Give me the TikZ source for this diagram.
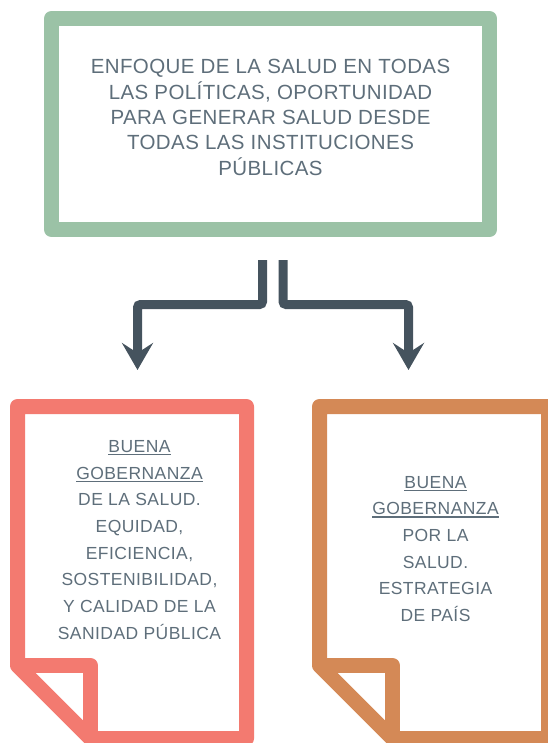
\documentclass[tikz,border=0pt]{standalone}
\usepackage{fontspec}
\setmainfont{Liberation Sans}
\usetikzlibrary{arrows.meta}
\definecolor{boxgreen}{HTML}{9BC2A6}
\definecolor{pagered}{HTML}{F37A70}
\definecolor{pageorange}{HTML}{D48956}
\definecolor{arrowc}{HTML}{45535E}
\definecolor{txtc}{HTML}{5E6E7A}
\newcommand\myunder[1]{\setbox0=\hbox{#1}\rlap{\rule[-2.8pt]{\wd0}{1.3pt}}\box0}
\tikzset{
  topbox/.style={draw=boxgreen, line width=15pt, line join=round, minimum width=438pt, minimum height=211pt, inner sep=0pt},
  toptext/.style={font=\fontsize{20.5}{25.3}\selectfont\addfontfeature{LetterSpace=2}, text=txtc, align=center, inner sep=0pt},
  pagetext/.style={font=\fontsize{17.5}{26.7}\selectfont\addfontfeature{LetterSpace=2.5}, text=txtc, align=center, inner sep=0pt},
  pageline/.style={line width=15pt, line join=round},
  conn/.style={draw=arrowc, line width=9pt, rounded corners=3pt, -{Stealth[length=27pt, width=31pt, inset=10pt]}}
}
\begin{document}
\begin{tikzpicture}[x=1pt, y=-1pt]
\useasboundingbox (0,0) rectangle (547,743);
% top box
\node[topbox] (top) at (270.5,124) {};
\node[toptext] (toptxt) at (270.5,117.5) {ENFOQUE DE LA SALUD EN TODAS\\LAS POLÍTICAS, OPORTUNIDAD\\PARA GENERAR SALUD DESDE\\TODAS LAS INSTITUCIONES\\PÚBLICAS};
% left page
\draw[pageline, draw=pagered] (17.5,406.5) -- (246.5,406.5) -- (246.5,738.5) -- (90.5,738.5) -- (17.5,665.5) -- cycle;
\draw[pageline, draw=pagered] (17.5,665.5) -- (90.5,665.5) -- (90.5,738.5);
\node[pagetext] (lefttxt) at (139.5,540) {\myunder{BUENA}\\\myunder{GOBERNANZA}\\DE LA SALUD.\\EQUIDAD,\\EFICIENCIA,\\SOSTENIBILIDAD,\\Y CALIDAD DE LA\\SANIDAD PÚBLICA};
% right page
\draw[pageline, draw=pageorange] (319.5,406.5) -- (548.5,406.5) -- (548.5,738.5) -- (392.5,738.5) -- (319.5,665.5) -- cycle;
\draw[pageline, draw=pageorange] (319.5,665.5) -- (392.5,665.5) -- (392.5,738.5);
\node[pagetext] (righttxt) at (435.5,549) {\myunder{BUENA}\\\myunder{GOBERNANZA}\\POR LA\\SALUD.\\ESTRATEGIA\\DE PAÍS};
% connectors
\coordinate (ls) at (262.5,260);
\coordinate (le) at (137.5,370);
\coordinate (rs) at (283,260);
\coordinate (re) at (408.5,370);
\draw[conn] (ls) -- ++(0,44.5) -| (le);
\draw[conn] (rs) -- ++(0,44.5) -| (re);
\end{tikzpicture}
\end{document}
